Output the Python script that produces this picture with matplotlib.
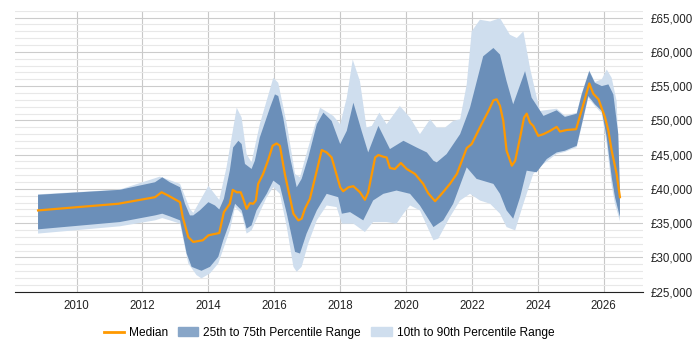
import numpy as np
import matplotlib.pyplot as plt
from matplotlib.ticker import MultipleLocator, FuncFormatter
from matplotlib.patches import Patch
from matplotlib.lines import Line2D

plt.rcParams['font.family'] = ['Liberation Sans', 'DejaVu Sans']

# median salary
med_x = [2008.83, 2011.26, 2012.38, 2012.58, 2012.78, 2013.14, 2013.22, 2013.39, 2013.54, 2013.83,
         2014.00, 2014.33, 2014.47, 2014.65, 2014.74, 2014.86, 2014.98, 2015.04, 2015.16, 2015.26,
         2015.36, 2015.44, 2015.51, 2015.66, 2015.82, 2015.95, 2016.07, 2016.17, 2016.32, 2016.58,
         2016.73, 2016.83, 2016.93, 2017.08, 2017.29, 2017.44, 2017.59, 2017.74, 2018.00, 2018.09,
         2018.25, 2018.40, 2018.60, 2018.75, 2018.85, 2019.06, 2019.16, 2019.31, 2019.41, 2019.51,
         2019.66, 2019.84, 2020.02, 2020.27, 2020.52, 2020.67, 2020.88, 2021.08, 2021.33, 2021.54,
         2021.84, 2021.99, 2022.29, 2022.50, 2022.65, 2022.75, 2022.85, 2022.95, 2023.05, 2023.21,
         2023.31, 2023.46, 2023.58, 2023.66, 2023.76, 2023.86, 2024.01, 2024.17, 2024.37, 2024.57,
         2024.67, 2024.88, 2025.16, 2025.38, 2025.56, 2025.68, 2025.84, 2026.04, 2026.14, 2026.24,
         2026.39, 2026.49]
med_y = [36860, 37830, 38790, 39510, 39030, 38060, 35890, 32980, 32260, 32500,
         33230, 33560, 36610, 37830, 39860, 39500, 39510, 38790, 37100, 37920,
         37830, 38310, 40730, 42180, 44300, 46300, 46630, 46290, 42180, 36380,
         35410, 35650, 37100, 38550, 42660, 45670, 45320, 44590, 40240, 39660,
         40240, 40390, 39510, 38410, 39510, 44590, 44940, 44690, 44590, 43050,
         42900, 43780, 42900, 42180, 40730, 39370, 38210, 39280, 40730, 42180,
         45960, 46540, 49440, 51370, 52920, 53070, 52100, 49920, 45570, 43390,
         44110, 47500, 50400, 50980, 49670, 49190, 47740, 47990, 48470, 49050,
         48370, 48600, 48710, 52340, 55390, 53890, 53070, 50400, 48470, 45570,
         42180, 38790]

# 75th percentile
p75_x = [2008.83, 2011.31, 2012.38, 2012.60, 2012.83, 2013.14, 2013.29, 2013.44, 2013.54, 2013.74,
         2014.00, 2014.20, 2014.33, 2014.47, 2014.65, 2014.75, 2014.91, 2015.01, 2015.11, 2015.31,
         2015.41, 2015.56, 2015.87, 2016.02, 2016.12, 2016.27, 2016.48, 2016.68, 2016.83, 2017.03,
         2017.29, 2017.49, 2017.74, 2018.00, 2018.20, 2018.40, 2018.65, 2018.85, 2019.16, 2019.51,
         2019.92, 2020.32, 2020.63, 2020.83, 2020.93, 2021.23, 2021.64, 2021.94, 2022.34, 2022.65,
         2022.85, 2023.05, 2023.25, 2023.61, 2023.81, 2024.17, 2024.57, 2024.82, 2025.18, 2025.33,
         2025.56, 2025.73, 2025.94, 2026.14, 2026.29, 2026.44, 2026.49]
p75_y = [39140, 39860, 40970, 41690, 40970, 40240, 37830, 36130, 36130, 36860,
         38060, 37580, 37000, 38550, 42660, 46040, 47020, 46540, 43640, 42910,
         44110, 47500, 51850, 53790, 53550, 50400, 44590, 40240, 41460, 44590,
         49440, 51130, 49920, 46540, 48470, 52580, 48470, 45320, 49190, 45810,
         47020, 46040, 45320, 44110, 43870, 45080, 47990, 51850, 59350, 60560,
         59600, 55720, 52340, 57180, 53310, 50650, 51470, 50500, 50980, 53790,
         57180, 55480, 55000, 55250, 53790, 47990, 39500]

# 25th percentile
p25_x = [2008.83, 2011.31, 2012.38, 2012.60, 2012.83, 2013.14, 2013.34, 2013.49, 2013.79, 2014.05,
         2014.30, 2014.45, 2014.65, 2014.81, 2015.01, 2015.16, 2015.31, 2015.46, 2015.77, 2015.97,
         2016.17, 2016.38, 2016.63, 2016.78, 2016.98, 2017.29, 2017.59, 2017.94, 2018.05, 2018.30,
         2018.70, 2019.00, 2019.31, 2019.71, 2020.12, 2020.42, 2020.83, 2021.13, 2021.43, 2021.84,
         2022.14, 2022.65, 2022.85, 2023.05, 2023.25, 2023.46, 2023.66, 2023.96, 2024.27, 2024.57,
         2024.82, 2025.18, 2025.38, 2025.53, 2025.73, 2025.94, 2026.09, 2026.24, 2026.34, 2026.49]
p25_y = [34100, 35160, 36130, 36380, 35990, 35410, 30570, 28630, 28050, 28630,
         30080, 32500, 35160, 37830, 36860, 34200, 34680, 36860, 39280, 41210,
         40490, 36380, 30810, 30570, 33480, 36860, 39280, 38790, 36380, 36610,
         35410, 38310, 39280, 39760, 39280, 37580, 34430, 35410, 37830, 43140,
         41460, 40730, 39280, 36860, 35650, 38790, 42660, 42420, 44360, 45320,
         45570, 46290, 50400, 53550, 52340, 51370, 47500, 41690, 38790, 35890]

# 90th percentile
p90_x = [2008.83, 2011.31, 2012.53, 2013.14, 2013.44, 2013.54, 2014.00, 2014.33, 2014.55, 2014.86,
         2015.01, 2015.16, 2015.31, 2015.56, 2015.97, 2016.12, 2016.38, 2016.63, 2016.78, 2017.03,
         2017.39, 2017.79, 2018.00, 2018.20, 2018.38, 2018.60, 2018.80, 2018.96, 2019.19, 2019.41,
         2019.81, 2020.12, 2020.42, 2020.73, 2020.93, 2021.18, 2021.43, 2021.64, 2021.84, 2021.99,
         2022.24, 2022.55, 2022.85, 2023.15, 2023.36, 2023.56, 2023.76, 2024.06, 2024.57, 2024.82,
         2025.18, 2025.33, 2025.56, 2025.73, 2025.94, 2026.09, 2026.24, 2026.39, 2026.49]
p90_y = [39200, 39900, 41790, 40730, 37100, 36500, 40440, 38400, 43140, 51850,
         50400, 45080, 43870, 49440, 56200, 55480, 49440, 42180, 41690, 46040,
         51850, 50650, 49440, 53310, 58880, 55720, 48950, 49190, 51130, 49440,
         52100, 50400, 47990, 50160, 48950, 48950, 49920, 50160, 55250, 62980,
         64680, 64430, 64910, 62500, 62010, 62980, 57660, 51370, 51700, 50700,
         51100, 53900, 57300, 55600, 56000, 57420, 56200, 52820, 40000]

# 10th percentile
p10_x = [2008.83, 2011.31, 2012.38, 2012.60, 2012.83, 2013.14, 2013.39, 2013.64, 2013.79, 2014.05,
         2014.30, 2014.65, 2014.81, 2015.01, 2015.16, 2015.31, 2015.77, 2015.97, 2016.17, 2016.38,
         2016.58, 2016.68, 2016.83, 2017.03, 2017.29, 2017.59, 2017.89, 2018.05, 2018.40, 2018.75,
         2019.00, 2019.41, 2019.71, 2019.92, 2020.12, 2020.42, 2020.83, 2020.98, 2021.33, 2021.64,
         2021.94, 2022.24, 2022.55, 2022.85, 2023.05, 2023.31, 2023.56, 2023.86, 2024.17, 2024.57,
         2024.82, 2025.18, 2025.38, 2025.53, 2025.73, 2025.94, 2026.09, 2026.24, 2026.34, 2026.49]
p10_y = [33480, 34540, 35410, 35740, 35410, 34930, 29120, 27420, 26940, 27670,
         29120, 33950, 37340, 36380, 33480, 33950, 38790, 40240, 39280, 34430,
         28630, 27900, 28630, 32020, 35410, 37580, 37340, 34930, 34930, 33710,
         35160, 35160, 34930, 36380, 37580, 36860, 32500, 32750, 35890, 38310,
         39280, 38310, 37830, 36380, 34430, 33950, 37830, 42180, 43640, 45100,
         45400, 46100, 50200, 53300, 52100, 51000, 46500, 40500, 37800, 35300]

fig = plt.figure(figsize=(7, 3.5), dpi=100)
ax = fig.add_axes([0.0214, 0.1666, 0.8967, 0.8028])

# outer band drawn as a closed polygon: upper edge then lower edge reversed
ax.fill(np.concatenate([p90_x, p10_x[::-1]]), np.concatenate([p90_y, p10_y[::-1]]),
        color='#cfdeee', lw=0, zorder=2)
ax.fill(np.concatenate([p75_x, p25_x[::-1]]), np.concatenate([p75_y, p25_y[::-1]]),
        color='#6b8fb9', lw=0, zorder=3)
ax.plot(med_x, med_y, color='#ff9900', lw=1.6, zorder=4)

ax.set_xlim(2008.13, 2027.18)
ax.set_ylim(25000, 66000)
ax.xaxis.set_major_locator(MultipleLocator(2))
ax.yaxis.set_major_locator(MultipleLocator(5000))
ax.yaxis.set_minor_locator(MultipleLocator(1000))
ax.yaxis.set_major_formatter(FuncFormatter(lambda v, p: '£{:,.0f}'.format(v)))
ax.yaxis.tick_right()

ax.grid(axis='x', color='#c8c8c8', lw=0.8, zorder=1)
ax.grid(axis='y', which='major', color='#cccccc', lw=0.8, zorder=1)
ax.grid(axis='y', which='minor', color='#e8e8e8', lw=0.8, zorder=1)
ax.set_axisbelow(True)

for s in ['left', 'right', 'top']:
    ax.spines[s].set_visible(False)
ax.spines['bottom'].set_color('#222222')
ax.tick_params(axis='both', which='both', length=0, labelsize=8.3, colors='#222222')
ax.tick_params(axis='y', pad=6)
ax.tick_params(axis='x', pad=6)

handles = [Line2D([], [], color='#ff9900', lw=2),
           Patch(color='#88a6c8'),
           Patch(color='#cfdeee')]
labels = ['Median', '25th to 75th Percentile Range', '10th to 90th Percentile Range']
ax.legend(handles, labels, loc='center', bbox_to_anchor=(0.5, -0.146), ncol=3,
          frameon=False, fontsize=8.6, handlelength=1.7, columnspacing=0.85,
          handletextpad=0.42)

plt.savefig('out.png', dpi=100)
